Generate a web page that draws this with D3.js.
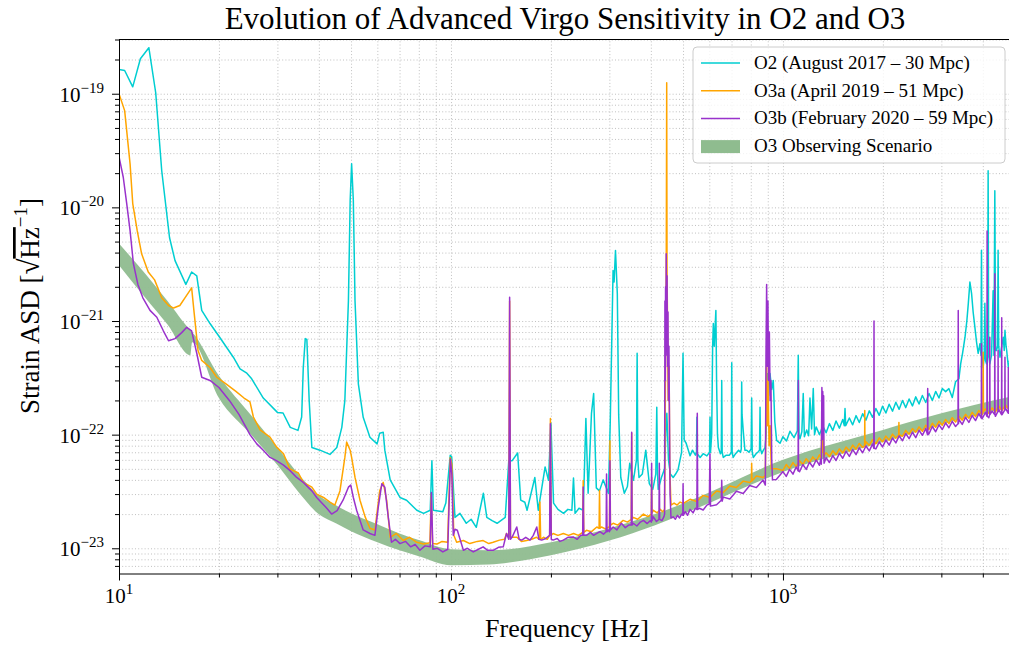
<!DOCTYPE html>
<html><head><meta charset="utf-8">
<script src="https://cdn.jsdelivr.net/npm/d3@7"></script>
<style>
body{margin:0;background:#fff;}
text{font-family:"Liberation Serif","Times New Roman",serif;fill:#000;}
</style></head><body>
<svg id="chart" width="1009" height="646"></svg>
<script>
// ---------------- DATA (frequency [Hz], strain ASD) ----------------
const O2 = [[10,1.63e-19],[10.4,1.6e-19],[11.0,1.15e-19],[11.6,2.03e-19],[12.3,2.54e-19],[12.9,1.02e-19],[13.45,2.1e-20],[14.2,5.4e-21],[14.75,3.4e-21],[15.9,2.1e-21],[16.55,2.7e-21],[17.15,2.5e-21],[17.75,1.24e-21],[18.8,9.5e-22],[20.1,7.2e-22],[22.1,4.8e-22],[23.15,3.8e-22],[24.2,3.5e-22],[25.1,3.1e-22],[27.2,2.1e-22],[30,1.57e-22],[31.2,1.55e-22],[32.8,1.16e-22],[34.6,1.09e-22],[35.5,1.43e-22],[35.9,3.9e-22],[36.4,7.0e-22],[36.8,6.9e-22],[37.4,2.0e-22],[38.1,7.7e-23],[40.3,7.3e-23],[43.2,6.7e-23],[45.3,7.7e-23],[46.9,1.16e-22],[47.9,2.0e-22],[49.1,1.51e-21],[49.7,1.15e-20],[50.2,2.42e-20],[50.8,1.15e-20],[51.4,1.5e-21],[52.6,2.8e-22],[54.4,1.42e-22],[57,9.5e-23],[59.9,8.3e-23],[61.0,1.03e-22],[62.5,1.05e-22],[63.2,7.3e-23],[65.6,4.0e-23],[70.2,2.8e-23],[73.5,2.65e-23],[78.9,2.16e-23],[82.7,2.03e-23],[86.6,2.16e-23],[87.6,5.9e-23],[88.5,2.16e-23],[94.5,2.1e-23],[96.5,2.5e-23],[99.5,6.6e-23],[100.5,6.4e-23],[102.8,1.87e-23],[106.4,2.03e-23],[111.2,1.66e-23],[115,1.8e-23],[119.2,1.53e-23],[125.2,3.05e-23],[128.2,1.87e-23],[133,1.75e-23],[137.7,1.66e-23],[145.7,1.87e-23],[149.3,5.9e-23],[152.9,5.9e-23],[158.8,6.9e-23],[162.2,2.65e-23],[166.9,2.54e-23],[169.5,2.16e-23],[178.9,4.2e-23],[183.2,2.16e-23],[192.1,5.2e-23],[196.7,3.97e-23],[200,1.26e-22],[203.7,2.5e-23],[210,2.2e-23],[218.3,2.03e-23],[225,2.2e-23],[231.3,2.16e-23],[233.9,4.15e-23],[236.5,2.03e-23],[243,2.25e-23],[250.3,2.16e-23],[254.9,1.39e-22],[258.9,3.05e-23],[265,1.54e-22],[269,2.3e-22],[274,3.4e-23],[280,3.2e-23],[287.4,4.0e-23],[298,3.05e-23],[301.8,1.28e-22],[307.8,2.78e-21],[310,2.2e-21],[313,4.17e-21],[317,1.74e-21],[320,1.5e-22],[324.7,4.2e-23],[332.8,3.05e-23],[340,3.5e-23],[345.5,5.6e-23],[354.6,3.97e-23],[362,6e-23],[363.7,5.2e-22],[365.5,6e-23],[368.4,4.2e-23],[377,4.5e-23],[386.2,7.3e-23],[395.8,3.7e-23],[405.4,3.3e-23],[414,4.5e-23],[416.8,1.74e-22],[419,4.5e-23],[421,3.3e-23],[430.5,4.2e-23],[440,5e-23],[445,1.34e-22],[447,1.54e-22],[452,6e-23],[458,4.5e-23],[467,4.2e-23],[475,4.5e-23],[483,4.9e-23],[495,7e-23],[500,5.2e-22],[504,9e-23],[511,8.4e-23],[525,6.53e-23],[534,7.3e-23],[545,6.6e-23],[549,7e-23],[550.5,1.42e-22],[552,6.8e-23],[563,6.3e-23],[575,6.8e-23],[590,6.5e-23],[601,7e-23],[603,1.42e-22],[605,7e-23],[610,1e-22],[614,6.0e-22],[617,9.5e-22],[621,6e-22],[628,1.24e-21],[631,3e-22],[635,1.0e-22],[639,7.7e-23],[648,6.8e-23],[652,7e-23],[654,3.0e-22],[656,7e-23],[661,6.3e-23],[675,6.6e-23],[690,6.6e-23],[699,7e-23],[701,4.3e-22],[703,7e-23],[708,6.3e-23],[720,6.8e-23],[735,7.3e-23],[745,7e-23],[749,7.5e-23],[751,2.9e-22],[753,1.5e-22],[759,1.09e-22],[768,7.3e-23],[778,7.3e-23],[790,7e-23],[802,7.5e-23],[805,2.1e-22],[808,7e-23],[814,6.3e-23],[830,6.8e-23],[840,7.0e-23],[850,7.3e-23],[853,1.74e-22],[856,7.5e-23],[863,6.8e-23],[873,7.3e-23],[883,7.7e-23],[890,1.0e-22],[897,3.45e-22],[905,2.2e-22],[914,3.45e-22],[925,2.5e-22],[935,3.0e-22],[945,1.3e-22],[957,8.9e-23],[980,8.4e-23],[1000,9.6e-23],[1025,8.8e-23],[1050,1.07e-22],[1080,9.4e-23],[1105,1.08e-22],[1112,5.0e-22],[1118,1.0e-22],[1125,9.2e-23],[1140,1.06e-22],[1151,2.3e-22],[1160,9.6e-23],[1179,1.1e-22],[1195,9.8e-23],[1206,2.1e-22],[1220,1.12e-22],[1234,2.55e-22],[1245,1.0e-22],[1259,1.17e-22],[1288,1.0e-22],[1318,1.19e-22],[1349,1.04e-22],[1380,1.25e-22],[1413,1.09e-22],[1445,1.32e-22],[1479,1.14e-22],[1514,1.36e-22],[1530,1.2e-22],[1538,1.7e-22],[1545,1.2e-22],[1585,1.4e-22],[1622,1.22e-22],[1660,1.47e-22],[1698,1.28e-22],[1738,1.53e-22],[1778,1.34e-22],[1820,1.62e-22],[1862,1.42e-22],[1905,1.7e-22],[1950,1.48e-22],[1995,1.78e-22],[2042,1.55e-22],[2089,1.85e-22],[2138,1.61e-22],[2188,1.93e-22],[2239,1.67e-22],[2291,2.0e-22],[2344,1.73e-22],[2399,2.06e-22],[2455,1.79e-22],[2512,2.15e-22],[2570,1.86e-22],[2630,2.21e-22],[2692,1.92e-22],[2754,2.3e-22],[2818,2.0e-22],[2884,2.4e-22],[2951,2.1e-22],[3020,2.55e-22],[3090,2.39e-22],[3162,2.54e-22],[3236,2.12e-22],[3311,2.92e-22],[3388,3.1e-22],[3430,4.2e-22],[3475,5.2e-22],[3535,7.2e-22],[3580,1.0e-21],[3617,1.43e-21],[3657,2.2e-21],[3700,1.74e-21],[3740,1.2e-21],[3786,8.8e-22],[3830,6.5e-22],[3873,5.2e-22],[3920,6.3e-22],[3950,5e-22],[3963,4.2e-21],[3976,5e-22],[4009,3.9e-22],[4040,5e-22],[4057,1.43e-21],[4075,4.5e-22],[4104,4.2e-22],[4135,5e-22],[4150,2.1e-20],[4165,5e-22],[4198,4.2e-22],[4250,5e-22],[4296,1.85e-21],[4320,5e-22],[4347,1.4e-20],[4370,5.5e-22],[4398,5.5e-22],[4430,6e-22],[4447,4.2e-21],[4465,6e-22],[4505,4.8e-22],[4560,6e-22],[4609,7.2e-22],[4640,5.5e-22],[4664,8.3e-22],[4700,6e-22],[4720,5.5e-22],[4775,3.9e-22],[4850,5e-22],[5000,4.5e-22]];

const O3a = [[10,1.0e-19],[10.4,7.1e-20],[10.8,2.4e-20],[11.0,1.08e-20],[11.35,6.2e-21],[11.7,3.9e-21],[12.25,2.7e-21],[12.8,2.3e-21],[13.45,1.6e-21],[14.1,1.37e-21],[14.6,1.3e-21],[15.25,1.37e-21],[15.8,1.6e-21],[16.55,1.96e-21],[16.85,1.16e-21],[17.3,5.5e-22],[17.75,4.5e-22],[18.8,3.9e-22],[19.7,3.2e-22],[21,2.8e-22],[22.5,2.4e-22],[23.8,2.1e-22],[24.8,1.94e-22],[25.4,1.43e-22],[26.6,1.1e-22],[28.5,9.5e-23],[29.8,7.8e-23],[31.3,6.8e-23],[32.7,5.0e-23],[34.7,4.6e-23],[35.9,3.8e-23],[38.1,3.45e-23],[39.4,3.0e-23],[41.3,2.8e-23],[43.2,2.55e-23],[44.7,2.4e-23],[46.3,3.2e-23],[47.9,6.3e-23],[48.5,8.6e-23],[49.7,7.3e-23],[50.2,6.3e-23],[51.4,4.2e-23],[53.2,2.65e-23],[55.1,1.9e-23],[57,1.5e-23],[59,1.45e-23],[61,3.2e-23],[62.5,3.8e-23],[64,2.65e-23],[65.6,1.25e-23],[68.5,1.35e-23],[71.8,1.17e-23],[75,1.25e-23],[78.9,1.13e-23],[82.7,1.09e-23],[86.4,1.12e-23],[87.2,3.0e-23],[88,1.1e-23],[90.8,1.09e-23],[94,1.15e-23],[97.7,1.13e-23],[99.5,6.3e-23],[100.6,5.5e-23],[102,1.3e-23],[104,1.13e-23],[109,1.17e-23],[114,1.1e-23],[120,1.15e-23],[125,1.17e-23],[130,1.1e-23],[134,1.13e-23],[140,1.18e-23],[145,1.2e-23],[147,1.35e-23],[149.3,1.25e-23],[150.2,1.5e-21],[151.1,1.25e-23],[158,1.25e-23],[163,1.15e-23],[169,1.17e-23],[175,1.2e-23],[181,1.25e-23],[184.3,1.2e-23],[185.3,2.55e-23],[186.3,1.2e-23],[190,1.25e-23],[195,1.2e-23],[198.3,1.3e-23],[199.3,1.39e-22],[200.5,1.3e-23],[203,1.35e-23],[210,1.3e-23],[218,1.35e-23],[226,1.3e-23],[234,1.35e-23],[242,1.3e-23],[249.3,1.38e-23],[250.2,3.95e-23],[251.2,1.38e-23],[256,1.44e-23],[265,1.4e-23],[275,1.54e-23],[279.3,1.5e-23],[280.2,3.23e-23],[281.2,1.5e-23],[284,1.54e-23],[292,1.48e-23],[300.2,1.55e-23],[301.2,8.84e-23],[302.2,1.6e-23],[308,1.66e-23],[318,1.6e-23],[330,1.76e-23],[340,1.7e-23],[349.2,1.8e-23],[350.2,1.03e-22],[351.2,1.8e-23],[354,1.87e-23],[365,1.8e-23],[380,2.0e-23],[392,1.9e-23],[401.2,2.0e-23],[402.2,4.2e-23],[403.2,2.05e-23],[407,2.16e-23],[418,2.05e-23],[427,2.2e-23],[434,2.1e-23],[440,2.2e-23],[443,5e-22],[445,2.5e-21],[446.5,1.25e-19],[447.5,3e-21],[449,1e-21],[451,2e-22],[454,4e-22],[456,5e-23],[460,2.4e-23],[470,2.5e-23],[480,2.4e-23],[490,2.55e-23],[501,2.48e-23],[525,2.7e-23],[550,2.58e-23],[575,2.92e-23],[603,2.8e-23],[631,3.19e-23],[661,3.1e-23],[692,3.54e-23],[724,3.43e-23],[759,3.9e-23],[794,3.79e-23],[803.5,3.9e-23],[805,5.6e-23],[806.5,3.9e-23],[832,4.32e-23],[871,4.2e-23],[885,4.4e-23],[889,1.5e-22],[893,4.5e-22],[897,1.2e-22],[902,3e-22],[908,8e-23],[915,1.2e-22],[922,5e-23],[955,5.0e-23],[1000,4.85e-23],[1023,5.46e-23],[1047,5.04e-23],[1072,5.67e-23],[1096,5.23e-23],[1122,5.9e-23],[1148,5.46e-23],[1175,6.14e-23],[1202,5.65e-23],[1230,6.37e-23],[1259,5.89e-23],[1288,6.64e-23],[1305,6.2e-23],[1310,1.5e-22],[1315,7e-23],[1320,1.3e-22],[1326,6.5e-23],[1349,6.93e-23],[1380,6.41e-23],[1413,7.21e-23],[1445,6.65e-23],[1479,7.48e-23],[1514,6.89e-23],[1549,7.77e-23],[1585,7.17e-23],[1622,8.09e-23],[1660,7.44e-23],[1698,8.37e-23],[1738,7.7e-23],[1762,8.0e-23],[1764,1.63e-22],[1766,8e-23],[1778,8.68e-23],[1820,8.03e-23],[1862,9.03e-23],[1905,8.31e-23],[1950,9.37e-23],[1995,8.65e-23],[2042,9.71e-23],[2089,8.93e-23],[2138,1.01e-22],[2188,9.31e-23],[2232,1.0e-22],[2235,1.28e-22],[2238,1.0e-22],[2291,9.69e-23],[2344,1.09e-22],[2399,1.01e-22],[2455,1.13e-22],[2512,1.05e-22],[2570,1.17e-22],[2630,1.07e-22],[2692,1.21e-22],[2754,1.11e-22],[2818,1.26e-22],[2884,1.16e-22],[2951,1.31e-22],[3020,1.21e-22],[3090,1.36e-22],[3162,1.25e-22],[3236,1.41e-22],[3311,1.29e-22],[3388,1.45e-22],[3467,1.34e-22],[3548,1.51e-22],[3631,1.39e-22],[3715,1.57e-22],[3802,1.44e-22],[3890,1.63e-22],[3981,1.5e-22],[4000,1.55e-22],[4009,5.3e-22],[4018,1.6e-22],[4074,1.68e-22],[4169,1.54e-22],[4266,1.72e-22],[4365,1.58e-22],[4467,1.78e-22],[4571,1.63e-22],[4677,1.83e-22],[4786,1.67e-22],[4898,1.88e-22],[5000,1.73e-22]];

const O3b = [[10,2.8e-20],[10.3,1.84e-20],[10.55,1.08e-20],[10.8,6.2e-21],[11.05,3.2e-21],[11.4,2.1e-21],[11.8,1.6e-21],[12.4,1.24e-21],[13.0,1.08e-21],[13.6,8.2e-22],[14.1,6.7e-22],[14.75,7.0e-22],[15.45,7.9e-22],[16.0,8.8e-22],[16.55,8.2e-22],[17.15,5.2e-22],[17.75,3.2e-22],[18.8,3.0e-22],[20,2.6e-22],[21.5,2.0e-22],[23,1.5e-22],[24.8,1.0e-22],[26.0,8.3e-23],[27.2,7.3e-23],[28.5,6.3e-23],[29.8,5.9e-23],[31.3,5.4e-23],[32.7,4.85e-23],[34.3,4.2e-23],[35.9,3.8e-23],[38.1,3.2e-23],[39.4,2.8e-23],[42.0,2.3e-23],[43.7,2.0e-23],[45.4,2.15e-23],[47.3,2.65e-23],[49.1,3.45e-23],[49.9,3.6e-23],[50.8,2.8e-23],[52,2.15e-23],[54.4,1.45e-23],[57,1.35e-23],[59,1.3e-23],[60.4,2.3e-23],[61.9,3.7e-23],[63.2,3.45e-23],[64.7,1.9e-23],[66.2,1.13e-23],[68,1.2e-23],[70.2,1.1e-23],[73,1.15e-23],[75.6,1.03e-23],[78,1.08e-23],[80.6,9.6e-24],[83.5,1.05e-23],[86.6,1.03e-23],[87.3,3.1e-23],[88.2,9.8e-24],[91,1.0e-23],[94.5,9.3e-24],[97.8,9.8e-24],[99.6,6.1e-23],[100.6,4.5e-23],[101.6,1.3e-23],[102.8,1.47e-23],[104.5,1.44e-23],[109,9.6e-24],[112,1.0e-23],[116.7,9.3e-24],[121,9.8e-24],[125,1.03e-23],[129,9.6e-24],[134,9.6e-24],[139,1.02e-23],[143.7,1.03e-23],[147,1.35e-23],[149.3,1.2e-23],[150.2,1.62e-21],[151.1,1.2e-23],[153,1.26e-23],[157.8,1.54e-23],[160.5,1.2e-23],[163.4,1.18e-23],[168,1.25e-23],[173,1.18e-23],[177,1.3e-23],[181.3,1.54e-23],[184,1.2e-23],[187.6,1.18e-23],[193,1.22e-23],[198.2,1.3e-23],[199.3,1.25e-22],[200.5,1.2e-23],[203,1.18e-23],[209,1.22e-23],[213,1.15e-23],[218,1.18e-23],[225,1.25e-23],[233.5,1.26e-23],[240,1.2e-23],[246,1.3e-23],[249.3,1.3e-23],[250.2,3.46e-23],[251.2,1.3e-23],[256,1.3e-23],[263,1.38e-23],[269,1.3e-23],[275,1.35e-23],[281,1.4e-23],[288,1.33e-23],[293.3,1.4e-23],[294.2,4.5e-23],[295.2,1.4e-23],[298,1.44e-23],[300.3,1.4e-23],[301.2,5.9e-23],[302.2,1.45e-23],[308,1.54e-23],[316,1.45e-23],[326,1.66e-23],[335,1.52e-23],[343,1.6e-23],[349.2,1.6e-23],[350.2,1.05e-22],[351.2,1.6e-23],[354,1.66e-23],[363,1.57e-23],[372,1.7e-23],[380,1.76e-23],[390,1.65e-23],[398,1.75e-23],[401.3,1.7e-23],[402.2,5.6e-23],[403.2,1.75e-23],[407,1.89e-23],[416,1.72e-23],[423.2,1.8e-23],[424.2,5.6e-23],[425.2,1.8e-23],[432,1.75e-23],[438,1.9e-23],[440,2.0e-23],[441,1.5e-21],[442,3.0e-22],[443,2.0e-21],[444,5e-22],[445,3.9e-21],[446.3,8e-22],[447.6,2.5e-21],[449,4e-22],[450.5,1.2e-21],[452,2e-22],[453.5,6e-22],[455.5,1.0e-22],[457,3.0e-23],[460,1.85e-23],[467,1.89e-23],[474,1.8e-23],[481,1.95e-23],[488,1.85e-23],[495,2.0e-23],[499.3,1.95e-23],[500.2,3.7e-23],[501.2,1.95e-23],[508,2.1e-23],[516,1.95e-23],[525,2.2e-23],[536,2.05e-23],[545,2.25e-23],[550.5,2.2e-23],[552,1.54e-22],[553.5,2.2e-23],[560,2.25e-23],[575,2.17e-23],[590,2.4e-23],[600,2.45e-23],[602.7,6.8e-23],[605,2.35e-23],[631,2.42e-23],[652,2.65e-23],[654,3.97e-23],[656,2.6e-23],[661,2.82e-23],[692,2.72e-23],[724,3.18e-23],[759,3.04e-23],[794,3.57e-23],[832,3.42e-23],[871,3.98e-23],[885,3.6e-23],[889,5e-22],[893,2.1e-21],[897,4e-22],[901,1.5e-21],[905,3e-22],[910,8e-22],[915,2e-22],[920,3e-22],[925,6e-23],[930,4.0e-23],[955,4.03e-23],[1000,4.73e-23],[1023,4.29e-23],[1047,4.95e-23],[1072,4.49e-23],[1096,5.19e-23],[1111,4.8e-23],[1112.5,3.0e-22],[1114,4.8e-23],[1122,4.72e-23],[1148,5.46e-23],[1175,4.95e-23],[1202,5.72e-23],[1230,5.19e-23],[1259,5.99e-23],[1288,5.38e-23],[1300,6.1e-23],[1305,5.5e-23],[1310,2.6e-22],[1314,9e-23],[1318,2.4e-22],[1322,1.0e-22],[1326,2.2e-22],[1330,5.6e-23],[1349,6.27e-23],[1380,5.69e-23],[1413,6.54e-23],[1445,5.92e-23],[1479,6.84e-23],[1514,6.2e-23],[1549,7.12e-23],[1585,6.44e-23],[1622,7.39e-23],[1660,6.67e-23],[1698,7.66e-23],[1738,6.93e-23],[1778,7.95e-23],[1820,7.19e-23],[1862,8.27e-23],[1878,7.6e-23],[1880.5,1.0e-21],[1883,7.6e-23],[1905,7.49e-23],[1950,8.62e-23],[1995,7.8e-23],[2042,8.96e-23],[2089,8.08e-23],[2138,9.33e-23],[2188,8.46e-23],[2239,9.75e-23],[2291,8.84e-23],[2344,1.02e-22],[2399,9.21e-23],[2455,1.05e-22],[2512,9.4e-23],[2570,1.09e-22],[2630,9.87e-23],[2692,1.13e-22],[2725,1.0e-22],[2729,2.55e-22],[2733,1.0e-22],[2754,1.02e-22],[2818,1.18e-22],[2884,1.06e-22],[2951,1.22e-22],[3020,1.11e-22],[3090,1.27e-22],[3162,1.15e-22],[3236,1.31e-22],[3311,1.18e-22],[3368,1.25e-22],[3373,1.24e-21],[3378,1.25e-22],[3388,1.36e-22],[3467,1.23e-22],[3548,1.42e-22],[3631,1.28e-22],[3715,1.47e-22],[3802,1.33e-22],[3890,1.53e-22],[3958,1.4e-22],[3963,6.3e-22],[3968,1.4e-22],[3981,1.38e-22],[4074,1.57e-22],[4116,1.45e-22],[4121,6.2e-21],[4126,1.45e-22],[4169,1.41e-22],[4193,1.5e-22],[4198,7.2e-22],[4203,1.5e-22],[4266,1.61e-22],[4342,1.5e-22],[4347,2.6e-21],[4352,1.5e-22],[4365,1.45e-22],[4442,1.6e-22],[4447,5.5e-22],[4452,1.6e-22],[4467,1.66e-22],[4555,1.5e-22],[4560,1.07e-21],[4565,1.5e-22],[4571,1.5e-22],[4659,1.65e-22],[4664,4.8e-22],[4669,1.65e-22],[4677,1.71e-22],[4770,1.55e-22],[4775,3.9e-22],[4780,1.55e-22],[4786,1.54e-22],[4898,1.77e-22],[5000,1.59e-22]];

const scenarioFreq = [10,12,14,16.4,16.6,20,25,30,35,40,45,50,60,70,80,100,130,150,200,300,410,520,1000,2000,3000,5000];
const scenarioHigh = [4.8e-21,2.6e-21,1.5e-21,8.3e-22,8.0e-22,3.3e-22,1.48e-22,7.7e-23,4.37e-23,2.92e-23,2.39e-23,2.03e-23,1.625e-23,1.35e-23,1.18e-23,9.8e-24,9.6e-24,9.8e-24,1.13e-23,1.5e-23,1.99e-23,2.59e-23,6.0e-23,1.1e-22,1.54e-22,2.2e-22];
const scenarioLow  = [3.1e-21,1.6e-21,9.3e-22,5.0e-22,6.5e-22,2.1e-22,1.0e-22,5.4e-23,3.04e-23,1.99e-23,1.66e-23,1.41e-23,1.13e-23,9.6e-24,8.5e-24,7.1e-24,7.2e-24,7.5e-24,8.7e-24,1.17e-23,1.59e-23,2.1e-23,4.7e-23,8.6e-23,1.23e-22,1.77e-22];

const xMajorTicks = [10,100,1000];
const xTickExponents = ["1","2","3"];
const yMajorTicks = [1e-23,1e-22,1e-21,1e-20,1e-19];
const yTickExponents = ["\u221223","\u221222","\u221221","\u221220","\u221219"];
const legendLabels = ["O2 (August 2017 \u2013 30 Mpc)","O3a (April 2019 \u2013 51 Mpc)","O3b (February 2020 \u2013 59 Mpc)","O3 Observing Scenario"];
const seriesColors = ["#00CED1","#FFA500","#9932CC","#8FBC8F"];
const titleText = "Evolution of Advanced Virgo Sensitivity in O2 and O3";
const xLabelText = "Frequency [Hz]";

// ---------------- LAYOUT ----------------
const m = {left:119, right:1015, top:39.5, bottom:573.5};
const x = d3.scaleLog().domain([10,5000]).range([m.left,m.right]);
const y = d3.scaleLog().domain([6e-24,3e-19]).range([m.bottom,m.top]);
const svg = d3.select("#chart");

svg.append("defs").append("clipPath").attr("id","clip")
  .append("rect").attr("x",m.left).attr("y",m.top).attr("width",m.right-m.left).attr("height",m.bottom-m.top);

const xMinor=[], yMinor=[];
[10,100,1000].forEach(d=>{for(let k=2;k<=9;k++){const v=d*k; if(v<=5000) xMinor.push(v);}});
[1e-24,1e-23,1e-22,1e-21,1e-20,1e-19].forEach(d=>{for(let k=2;k<=9;k++){const v=d*k; if(v>=6e-24 && v<=3e-19) yMinor.push(v);}});
const xAll = xMajorTicks.concat(xMinor), yAll = yMajorTicks.concat(yMinor);

// grid
const gx = svg.append("g").attr("transform",`translate(0,${m.bottom})`)
  .call(d3.axisBottom(x).tickValues(xAll).tickSize(-(m.bottom-m.top)).tickFormat(""));
const gy = svg.append("g").attr("transform",`translate(${m.left},0)`)
  .call(d3.axisLeft(y).tickValues(yAll).tickSize(-(m.right-m.left)).tickFormat(""));
[gx,gy].forEach(g=>{g.select(".domain").remove();
  g.selectAll("line").attr("stroke","#b0b0b0").attr("stroke-width",0.8).attr("stroke-dasharray","1,2.2");});

// scenario band
const band = scenarioFreq.map((f,i)=>({f,lo:scenarioLow[i],hi:scenarioHigh[i]}));
const plot = svg.append("g").attr("clip-path","url(#clip)");
plot.append("path").datum(band)
  .attr("d",d3.area().curve(d3.curveMonotoneX).x(d=>x(d.f)).y0(d=>y(d.lo)).y1(d=>y(d.hi)))
  .attr("fill",seriesColors[3]).attr("fill-opacity",0.95).attr("stroke","none");

// lines
const line = d3.line().x(d=>x(d[0])).y(d=>y(d[1]));
[[O2,0],[O3a,1],[O3b,2]].forEach(([data,i])=>{
  plot.append("path").datum(data).attr("d",line)
    .attr("fill","none").attr("stroke",seriesColors[i]).attr("stroke-width",1.5)
    .attr("stroke-linejoin","round");
});

// axes (ticks)
const axB = svg.append("g").attr("transform",`translate(0,${m.bottom})`);
axB.call(d3.axisBottom(x).tickValues(xMajorTicks).tickSize(7).tickSizeOuter(0).tickFormat(""));
const axBm = svg.append("g").attr("transform",`translate(0,${m.bottom})`);
axBm.call(d3.axisBottom(x).tickValues(xMinor).tickSize(4).tickFormat(""));
axBm.select(".domain").remove();
const axL = svg.append("g").attr("transform",`translate(${m.left},0)`);
axL.call(d3.axisLeft(y).tickValues(yMajorTicks).tickSize(7).tickSizeOuter(0).tickFormat(""));
const axLm = svg.append("g").attr("transform",`translate(${m.left},0)`);
axLm.call(d3.axisLeft(y).tickValues(yMinor).tickSize(4).tickFormat(""));
axLm.select(".domain").remove();
svg.selectAll(".domain").attr("stroke","#000").attr("stroke-width",1);
[axB,axBm,axL,axLm].forEach(g=>g.selectAll("line").attr("stroke","#000").attr("stroke-width",1));
svg.append("line").attr("x1",m.left).attr("x2",m.right).attr("y1",m.top).attr("y2",m.top).attr("stroke","#000").attr("stroke-width",1);
svg.append("line").attr("x1",m.right).attr("x2",m.right).attr("y1",m.top).attr("y2",m.bottom).attr("stroke","#000").attr("stroke-width",1);

// tick labels
xMajorTicks.forEach((v,i)=>{
  const t = svg.append("text").attr("x",x(v)).attr("y",603).attr("text-anchor","middle").attr("font-size",21);
  t.append("tspan").text("10");
  t.append("tspan").attr("dy",-9).attr("font-size",15).text(xTickExponents[i]);
});
yMajorTicks.forEach((v,i)=>{
  const t = svg.append("text").attr("x",104).attr("y",y(v)+8).attr("text-anchor","end").attr("font-size",21);
  t.append("tspan").text("10");
  t.append("tspan").attr("dy",-9).attr("font-size",15).text(yTickExponents[i]);
});

// title & labels
svg.append("text").attr("x",(m.left+m.right)/2 - 2).attr("y",29).attr("text-anchor","middle")
  .attr("font-size",31).text(titleText);
svg.append("text").attr("x",(m.left+m.right)/2).attr("y",637).attr("text-anchor","middle")
  .attr("font-size",26).text(xLabelText);
const yl = svg.append("text").attr("transform","translate(39,306) rotate(-90)").attr("text-anchor","middle").attr("font-size",27);
yl.append("tspan").text("Strain ASD [");
yl.append("tspan").attr("font-size",29).text("\u221A");
yl.append("tspan").attr("text-decoration","overline").text("Hz");
yl.append("tspan").attr("dy",-12).attr("font-size",19).text("\u22121");
yl.append("tspan").attr("dy",12).text("]");

// legend
const lg = svg.append("g");
lg.append("rect").attr("x",693).attr("y",47).attr("width",312).attr("height",116).attr("rx",4)
  .attr("fill","#fff").attr("fill-opacity",0.8).attr("stroke","#cccccc");
legendLabels.forEach((lab,i)=>{
  const cy = 63 + i*27.7;
  if(i<3){
    lg.append("line").attr("x1",701).attr("x2",740).attr("y1",cy).attr("y2",cy)
      .attr("stroke",seriesColors[i]).attr("stroke-width",1.5);
  } else {
    lg.append("rect").attr("x",701).attr("y",cy-6).attr("width",39).attr("height",13).attr("fill",seriesColors[3]);
  }
  lg.append("text").attr("x",754).attr("y",cy+6).attr("font-size",19).text(lab);
});
</script></body></html>
